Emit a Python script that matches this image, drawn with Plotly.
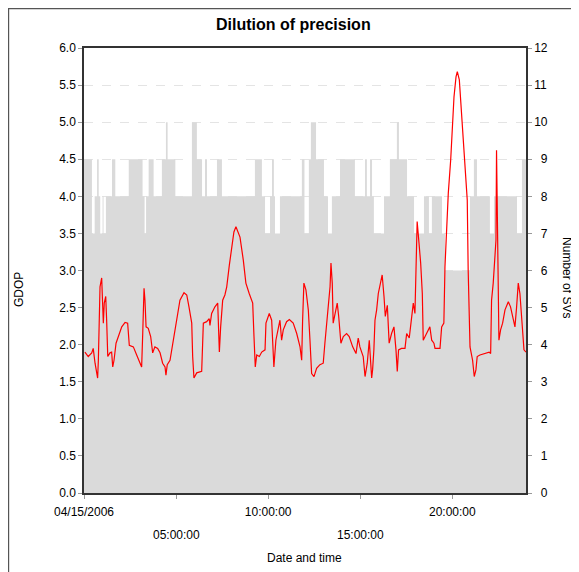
import pandas as pd
import plotly.graph_objects as go

# ---- data (hours since 04/15/2006 00:00) ----
sv_hours = [0.00, 0.43, 0.58, 0.71, 0.80, 0.88, 1.01, 1.06, 1.19, 1.52, 1.70, 2.43, 3.18, 3.29,
            3.37, 3.51, 3.78, 4.23, 4.45, 4.54, 4.96, 5.86, 6.13, 6.41, 6.57, 6.68, 7.22, 7.49,
            9.28, 9.66, 9.83, 10.10, 10.21, 10.31, 10.37, 10.64, 11.83, 11.97, 12.21, 12.32,
            12.60, 13.03, 13.25, 13.46, 13.90, 14.71, 15.26, 15.36, 15.53, 15.64, 15.74, 16.29,
            16.61, 16.99, 17.10, 17.54, 17.92, 18.46, 18.73, 18.89, 19.44, 19.60, 20.96, 21.17,
            21.34, 22.04, 22.26, 23.51, 23.78, 24.00]
sv_values = [9, 7, 8, 9, 8, 7, 8, 7, 8, 9, 8, 9, 8, 7,
             8, 9, 8, 9, 10, 9, 8, 10, 9, 8, 9, 8, 9, 8,
             9, 8, 7, 8, 9, 8, 7, 8, 9, 7, 9, 10,
             9, 8, 7, 8, 9, 8, 9, 8, 9, 8, 7, 8,
             9, 10, 9, 8, 7, 8, 7, 8, 7, 6, 8, 9,
             8, 7, 8, 7, 9, 9]

gdop_hours = [0.05, 0.23, 0.42, 0.50, 0.60, 0.69, 0.74, 0.78, 0.83, 0.87, 0.96, 0.99, 1.05, 1.10,
              1.18, 1.23, 1.29, 1.41, 1.50, 1.56, 1.63, 1.74, 1.86, 2.05, 2.23, 2.37, 2.46, 2.68,
              2.86, 3.04, 3.13, 3.19, 3.26, 3.31, 3.37, 3.49, 3.62, 3.73, 3.85, 4.00, 4.13, 4.27,
              4.40, 4.45, 4.52, 4.67, 4.85, 5.03, 5.21, 5.43, 5.58, 5.70, 5.85, 5.90, 5.97, 6.12,
              6.39, 6.48, 6.66, 6.80, 6.84, 6.93, 7.11, 7.26, 7.35, 7.42, 7.53, 7.65, 7.75, 7.89,
              8.02, 8.14, 8.25, 8.38, 8.47, 8.65, 8.79, 8.97, 9.16, 9.23, 9.30, 9.38, 9.52, 9.65,
              9.83, 9.88, 10.06, 10.19, 10.24, 10.31, 10.42, 10.55, 10.64, 10.73, 10.82, 11.00,
              11.15, 11.36, 11.55, 11.73, 11.82, 11.87, 11.94, 12.05, 12.18, 12.27, 12.36, 12.49,
              12.63, 12.81, 12.99, 13.08, 13.18, 13.26, 13.36, 13.41, 13.48, 13.53, 13.63, 13.75,
              13.83, 13.95, 14.08, 14.26, 14.40, 14.59, 14.77, 14.89, 14.98, 15.16, 15.26, 15.38,
              15.49, 15.56, 15.62, 15.67, 15.74, 15.80, 15.89, 15.98, 16.11, 16.19, 16.29, 16.36,
              16.47, 16.57, 16.70, 16.83, 16.94, 17.01, 17.08, 17.24, 17.43, 17.52, 17.66, 17.79,
              17.88, 17.97, 18.02, 18.09, 18.19, 18.28, 18.37, 18.42, 18.60, 18.78, 18.88, 19.00,
              19.06, 19.33, 19.42, 19.54, 19.60, 19.69, 19.78, 19.91, 20.01, 20.09, 20.20, 20.27,
              20.38, 20.45, 20.56, 20.65, 20.74, 20.81, 20.86, 20.96, 21.10, 21.19, 21.28, 21.35,
              21.50, 21.77, 22.00, 22.08, 22.13, 22.22, 22.31, 22.37, 22.40, 22.44, 22.49, 22.53,
              22.62, 22.73, 22.86, 23.04, 23.16, 23.27, 23.40, 23.49, 23.58, 23.67, 23.76, 23.82,
              23.89, 24.00]
gdop_values = [1.90, 1.84, 1.89, 1.95, 1.75, 1.62, 1.55, 1.79, 2.33, 2.78, 2.90, 2.60, 2.29, 2.56,
               2.65, 2.33, 1.84, 1.89, 1.90, 1.70, 1.79, 2.02, 2.11, 2.24, 2.30, 2.29, 1.99, 1.97,
               1.86, 1.75, 1.70, 2.16, 2.76, 2.60, 2.24, 2.22, 2.11, 1.89, 1.97, 1.95, 1.89, 1.75,
               1.70, 1.59, 1.73, 1.79, 2.06, 2.38, 2.60, 2.70, 2.67, 2.51, 2.29, 1.84, 1.55, 1.62,
               1.64, 2.29, 2.31, 2.35, 2.26, 2.42, 2.51, 2.56, 1.90, 2.24, 2.60, 2.67, 2.78, 3.07,
               3.32, 3.52, 3.59, 3.52, 3.45, 3.14, 2.83, 2.69, 2.56, 2.11, 1.70, 1.86, 1.84, 1.90,
               1.93, 2.29, 2.42, 2.33, 1.99, 1.70, 2.06, 2.24, 2.33, 2.06, 2.20, 2.31,
               2.34, 2.29, 2.15, 1.97, 1.79, 2.33, 2.83, 2.74, 2.47, 2.06, 1.61, 1.57,
               1.68, 1.73, 1.75, 2.02, 2.29, 2.60, 2.78, 3.10, 2.83, 2.29, 2.42, 2.56,
               2.38, 2.02, 2.11, 2.15, 2.11, 1.97, 1.88, 2.09, 1.97, 1.84, 1.57, 1.75,
               2.06, 1.79, 1.55, 1.66, 1.93, 2.33, 2.47, 2.69, 2.83, 2.94, 2.65, 2.38,
               2.53, 2.02, 2.15, 2.24, 1.93, 1.64, 1.93, 1.95, 1.95, 2.15, 2.09, 2.33,
               2.56, 2.42, 3.05, 3.66, 3.37, 3.10, 2.69, 2.06, 2.15, 2.24, 2.06, 2.02,
               1.95, 1.95, 2.24, 2.29, 3.05, 3.60, 4.04, 4.49, 4.98, 5.34, 5.61, 5.68,
               5.57, 5.30, 4.94, 4.58, 4.22, 3.95, 3.01, 1.97, 1.79, 1.57, 1.66, 1.84,
               1.86, 1.88, 1.90, 1.88, 2.60, 2.83, 3.14, 3.41, 4.62, 3.95, 3.37, 2.06,
               2.20, 2.29, 2.47, 2.58, 2.51, 2.38, 2.24, 2.51, 2.83, 2.69, 2.38, 2.11,
               1.93, 1.90]

tick_hours_row1 = [0, 10, 20]
tick_labels_row1 = ["04/15/2006", "10:00:00", "20:00:00"]
tick_hours_row2 = [5, 15]
tick_labels_row2 = ["05:00:00", "15:00:00"]
sv_ticks = list(range(0, 13))

# ---- build ----
base = pd.Timestamp("2006-04-15")
def to_time(h):
    return base + pd.to_timedelta(h, unit="h")

sv_t = [to_time(h) for h in sv_hours]
gd_t = [to_time(h) for h in gdop_hours]
all_tick_hours = sorted(tick_hours_row1 + tick_hours_row2)
tick_t = [to_time(h) for h in all_tick_hours]
row1 = dict(zip(tick_hours_row1, tick_labels_row1))
tick_text = [row1.get(h, "") for h in all_tick_hours]
sv_ticktext = [("\u2007" + str(v)) if v < 10 else str(v) for v in sv_ticks]

FONT = "Liberation Sans, Arial, sans-serif"

fig = go.Figure()
fig.add_trace(go.Scatter(
    x=sv_t, y=sv_values, yaxis="y", mode="lines", line=dict(shape="hv", width=0, color="#dadada"),
    fill="tozeroy", fillcolor="#dadada", hoverinfo="skip", showlegend=False))
fig.add_trace(go.Scatter(
    x=gd_t, y=gdop_values, yaxis="y2", mode="lines", line=dict(color="#ff0000", width=1.2),
    showlegend=False))

annotations = [
    dict(text="<b>Dilution of precision</b>", x=0.475, y=1.052, xref="paper", yref="paper",
         xanchor="center", yanchor="middle", showarrow=False,
         font=dict(size=16, family=FONT, color="#000")),
    dict(text="GDOP", x=-0.147, y=0.456, xref="paper", yref="paper", textangle=-90,
         xanchor="center", yanchor="middle", showarrow=False, font=dict(size=12)),
    dict(text="Number of SVs", x=1.093, y=0.485, xref="paper", yref="paper", textangle=90,
         xanchor="center", yanchor="middle", showarrow=False, font=dict(size=12)),
    dict(text="Date and time", x=0.498, y=-0.146, xref="paper", yref="paper",
         xanchor="center", yanchor="middle", showarrow=False, font=dict(size=12)),
]
for h, lab in zip(tick_hours_row2, tick_labels_row2):
    annotations.append(dict(text=lab, x=to_time(h), xref="x", y=-0.094, yref="paper",
                            xanchor="center", yanchor="middle", showarrow=False,
                            font=dict(size=12)))

fig.update_layout(
    width=571, height=564,
    margin=dict(l=76, r=53, t=40, b=79),
    paper_bgcolor="white", plot_bgcolor="white",
    font=dict(family=FONT, size=12, color="#000"),
    xaxis=dict(
        range=[to_time(0), to_time(24)], tickvals=tick_t, ticktext=tick_text,
        showgrid=False, zeroline=False, showline=True, linecolor="#333", linewidth=1.5,
        mirror=True, ticks="outside", ticklen=4, tickcolor="#999", tickangle=0,
        ticklabelstandoff=3, tickfont=dict(size=12)),
    yaxis=dict(
        range=[0, 12], tickvals=sv_ticks, ticktext=sv_ticktext, side="right", showgrid=True,
        gridcolor="#e4e4e4", griddash="dash", gridwidth=1, zeroline=False, showline=True,
        linecolor="#333", linewidth=1.5, ticks="outside", ticklen=4, tickcolor="#999",
        tickfont=dict(size=12)),
    yaxis2=dict(
        range=[0, 6], dtick=0.5, tickformat=".1f", side="left", overlaying="y",
        showgrid=False, zeroline=False, showline=True, linecolor="#333", linewidth=1.5,
        ticks="outside", ticklen=4, tickcolor="#999", tickfont=dict(size=12)),
    annotations=annotations,
    shapes=[dict(type="rect", xref="paper", yref="paper", x0=-0.1706, x1=1.3, y0=-0.4, y1=1.0885,
                 line=dict(color="#555", width=1.2), fillcolor="rgba(0,0,0,0)", layer="below")],
)

fig.write_html("out.html")
